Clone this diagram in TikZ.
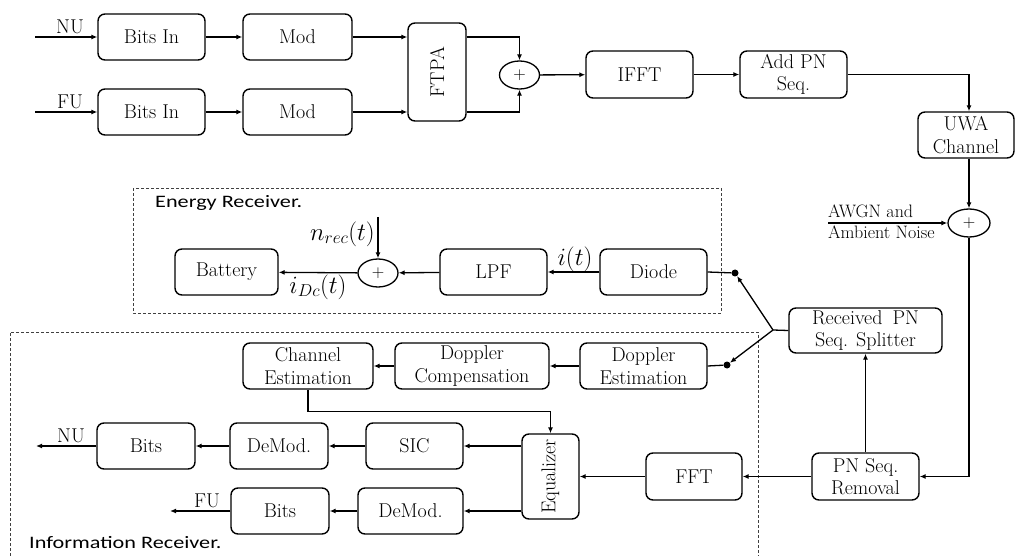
\documentclass[tikz,border=0pt]{standalone}
\usepackage{fontspec}
\usepackage{graphicx}
\newfontfamily\labsans{Carlito}[FakeStretch=1.27]
\usetikzlibrary{shapes.geometric,arrows.meta,calc}
\tikzset{
  blk/.style={draw, line width=1.4pt, rounded corners=7pt, inner sep=0pt, align=center,
     minimum height=46pt, font=\fontsize{20}{22.5}\selectfont},
  sumnode/.style={draw, ellipse, line width=1.3pt, inner sep=0pt, minimum width=40pt,
     minimum height=28pt, font=\fontsize{17}{17}\selectfont},
  conn/.style={line width=1.3pt},
  arr/.style={conn, -{Latex[length=6pt,width=5pt]}},
  txt/.style={inner sep=0pt, font=\fontsize{18}{21}\selectfont, align=left},
  iolab/.style={inner sep=0pt, font=\fontsize{20}{22}\selectfont},
  mth/.style={inner sep=0pt, font=\fontsize{23}{26}\selectfont},
  grp/.style={draw=black!75, line width=0.8pt, dash pattern=on 3pt off 2pt},
  hdr/.style={inner sep=0pt, anchor=west, font=\labsans\fontsize{17.5}{20}\selectfont},
  dotn/.style={circle, fill=black, inner sep=0pt, minimum size=7pt}
}
\begin{document}
\begin{tikzpicture}[x=1pt,y=-1pt]
\useasboundingbox (0,0) rectangle (1015,556);
% group frames
\draw[grp] (133,188) rectangle (721,313);
\draw[grp] (10,556) -- (10,332) -- (758,332) -- (758,556);
\node[hdr] (ergt) at (155,203) {Energy Receiver.};
\node[hdr] (irgt) at (29,543) {Information Receiver.};
% transmitter
\node[blk, minimum width=107pt] (bin1) at (151.5,37) {Bits In};
\node[blk, minimum width=109pt] (mod1) at (297.5,37) {Mod};
\node[blk, minimum width=107pt] (bin2) at (151.5,112) {Bits In};
\node[blk, minimum width=109pt] (mod2) at (297.5,112) {Mod};
\node[blk, minimum width=58pt, minimum height=98pt] (ftpa) at (437,72) {\rotatebox{90}{FTPA}};
\node[sumnode] (sum1) at (519.5,75) {$+$};
\node[blk, minimum width=107pt, minimum height=47pt] (ifft) at (639.5,74.5) {IFFT};
\node[blk, minimum width=107pt, minimum height=47pt] (addpn) at (793.5,74.5) {Add PN\\Seq.};
\node[blk, minimum width=96pt] (uwa) at (966,135) {UWA\\Channel};
\node[sumnode, minimum width=42pt] (sum2) at (969,223) {$+$};
\coordinate (nuin) at (35,37);
\coordinate (fuin) at (35,112);
\node[iolab] (nulab) at (70,27) {NU};
\node[iolab] (fulab) at (70,102) {FU};
\coordinate (awgnin) at (828,223);
\node[txt, anchor=base west] (awgn1) at (828,218) {AWGN and};
\node[txt, anchor=base west] (awgn2) at (828,239) {Ambient Noise};
% receiver chain
\node[blk, minimum width=153pt, minimum height=45pt] (split) at (865.5,330.5) {Received\enspace PN\\Seq. Splitter};
\node[blk, minimum width=107pt, minimum height=47pt] (pnrem) at (865.5,476.5) {PN Seq.\\Removal};
\node[blk, minimum width=96pt, minimum height=47pt] (fft) at (694,476.5) {FFT};
\node[blk, minimum width=57pt, minimum height=85pt] (eq) at (550.5,476.5) {\rotatebox{90}{Equalizer}};
\node[blk, minimum width=97pt] (sic) at (414.5,446) {SIC};
\node[blk, minimum width=98pt] (dm1) at (279,446) {DeMod.};
\node[blk, minimum width=98pt] (bits1) at (146,446) {Bits};
\node[blk, minimum width=105pt] (dm2) at (410.5,511) {DeMod.};
\node[blk, minimum width=98pt] (bits2) at (280,511) {Bits};
\coordinate (nuout) at (36,446);
\coordinate (fuout) at (170,511);
\node[iolab] (nulab2) at (71,436) {NU};
\node[iolab] (fulab2) at (207,501) {FU};
\node[blk, minimum width=130pt] (chest) at (308,366) {Channel\\Estimation};
\node[blk, minimum width=154pt] (dcomp) at (472,366) {Doppler\\Compensation};
\node[blk, minimum width=127pt] (dest) at (643.5,366) {Doppler\\Estimation};
% energy receiver
\node[blk, minimum width=103pt] (batt) at (226.5,272) {Battery};
\node[sumnode] (sum3) at (378,273) {$+$};
\node[blk, minimum width=107pt] (lpf) at (493.5,272) {LPF};
\node[blk, minimum width=107pt] (diode) at (653.5,272) {Diode};
\coordinate (nrecin) at (378,217);
\node[mth, anchor=east] (nreclab) at (375,234) {$n_{rec}(t)$};
\node[mth] (idclab) at (318,287) {$i_{Dc}(t)$};
\node[mth] (itlab) at (575,259) {$i(t)$};
% dots and branch
\node[dotn] (dot1) at (735,273) {};
\node[dotn] (dot2) at (727,365) {};
\coordinate (br) at (773,330);
% connectors: transmitter
\draw[arr] (nuin) -- (bin1.west);
\draw[arr] (fuin) -- (bin2.west);
\draw[arr] (bin1) -- (mod1);
\draw[arr] (bin2) -- (mod2);
\draw[arr] (mod1.east) -- (ftpa.west |- mod1.east);
\draw[arr] (mod2.east) -- (ftpa.west |- mod2.east);
\draw[arr] (ftpa.east |- mod1.east) -| (sum1.north);
\draw[arr] (ftpa.east |- mod2.east) -| (sum1.south);
\draw[arr] (sum1) -- (ifft);
\draw[arr] (ifft) -- (addpn);
\draw[arr] (addpn.east) -| (sum2 |- uwa.north);
\draw[arr] (sum2 |- uwa.south) -- (sum2.north);
\draw[arr] (awgnin) -- (sum2.west);
\draw[arr] (sum2.south) |- (pnrem.east);
% receiver
\draw[arr] (pnrem) -- (fft);
\draw[arr] (fft) -- (eq);
\draw[arr] (pnrem.north) -- (split.south);
\draw[conn] (split.west) -- (br);
\draw[arr] (br) -- (dot1);
\draw[arr] (br) -- (dot2);
\draw[conn] (diode.east) -- (dot1);
\draw[conn] (dest.east) -- (dot2);
\draw[arr] (diode) -- (lpf);
\draw[arr] (lpf) -- (sum3);
\draw[arr] (sum3) -- (batt);
\draw[arr] (nrecin) -- (sum3.north);
\draw[arr] (dest) -- (dcomp);
\draw[arr] (dcomp) -- (chest);
\draw[arr] (chest.south) |- ($(eq.north)+(0,-22)$) -- (eq.north);
\draw[arr] (eq.west |- sic) -- (sic.east);
\draw[arr] (eq.west |- dm2) -- (dm2.east);
\draw[arr] (sic) -- (dm1);
\draw[arr] (dm1) -- (bits1);
\draw[arr] (bits1.west) -- (nuout);
\draw[arr] (dm2) -- (bits2);
\draw[arr] (bits2.west) -- (fuout);
\end{tikzpicture}
\end{document}
